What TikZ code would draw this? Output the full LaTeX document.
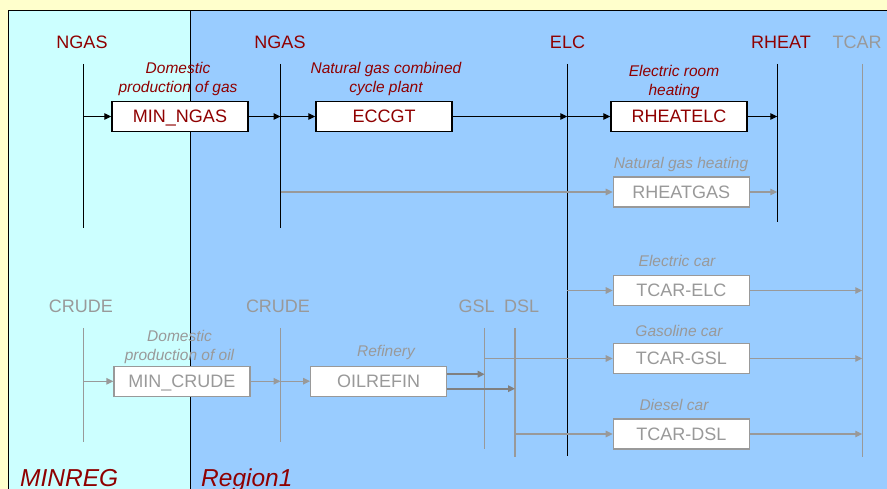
\documentclass[tikz,border=0pt]{standalone}
\usepackage{fontspec}
\setmainfont{Liberation Sans}
\usetikzlibrary{arrows.meta}
\definecolor{dred}{RGB}{143,0,0}
\definecolor{lgray}{RGB}{153,153,153}
\definecolor{mgray}{RGB}{128,128,128}
\definecolor{bgyellow}{RGB}{255,255,204}
\definecolor{regcyan}{RGB}{204,255,255}
\definecolor{regblue}{RGB}{153,204,255}
\begin{document}
\begin{tikzpicture}[x=1pt,y=-1pt,
  buslbl/.style={font=\fontsize{18}{20}\selectfont, inner sep=0pt, text=dred},
  gbuslbl/.style={buslbl, text=lgray},
  procbox/.style={draw=black, line width=1.4pt, fill=white, minimum width=136pt, minimum height=30pt, inner sep=0pt, text height=12.9pt, text depth=0pt, font=\fontsize{18}{20}\selectfont, text=dred},
  gprocbox/.style={procbox, draw=lgray, line width=1.2pt, text=lgray},
  desc/.style={font=\fontsize{15.5}{19}\selectfont\itshape, align=center, inner sep=0pt, text=dred},
  gdesc/.style={desc, text=lgray},
  bus/.style={draw=black, line width=1pt},
  gbus/.style={draw=lgray, line width=1.3pt},
  barrow/.style={draw=black, line width=1pt, -{Triangle[length=7pt,width=6.5pt]}},
  garrow/.style={draw=lgray, line width=1.2pt, -{Triangle[length=7pt,width=6.5pt]}},
  oarrow/.style={draw=mgray, line width=1.8pt, -{Triangle[length=7pt,width=6.5pt]}},
  reglbl/.style={font=\fontsize{24.5}{26}\selectfont\itshape, inner sep=0pt, text=dred, anchor=base west}
]
\useasboundingbox (0,0) rectangle (887,489);
% backgrounds
\fill[bgyellow] (0,0) rectangle (887,489);
\fill[regcyan] (8,11) rectangle (190,489);
\fill[regblue] (190,11) rectangle (887,489);
\draw[black, line width=1pt] (8,489) -- (8,11) -- (887,11);
\draw[black, line width=1pt] (190,11) -- (190,489);

% bus coordinates
\coordinate (ngasAT) at (83.5,64);   \coordinate (ngasAB) at (83.5,228);
\coordinate (ngasBT) at (280.5,64);  \coordinate (ngasBB) at (280.5,228);
\coordinate (elcT) at (567.3,64);    \coordinate (elcB) at (567.3,456);
\coordinate (rheatT) at (777.3,64);  \coordinate (rheatB) at (777.3,222);
\coordinate (tcarT) at (862.3,64);   \coordinate (tcarB) at (862.3,456.5);
\coordinate (crudeAT) at (83.5,328); \coordinate (crudeAB) at (83.5,441.7);
\coordinate (crudeBT) at (280.5,328);\coordinate (crudeBB) at (280.5,441.7);
\coordinate (gslT) at (484.7,328);   \coordinate (gslB) at (484.7,449);
\coordinate (dslT) at (515,328);     \coordinate (dslB) at (515,456.7);

% buses
\draw[bus] (ngasAT) -- (ngasAB);
\draw[bus] (ngasBT) -- (ngasBB);
\draw[bus] (elcT) -- (elcB);
\draw[bus] (rheatT) -- (rheatB);
\draw[gbus] (tcarT) -- (tcarB);
\draw[gbus] (crudeAT) -- (crudeAB);
\draw[gbus] (crudeBT) -- (crudeBB);
\draw[gbus] (gslT) -- (gslB);
\draw[gbus] (dslT) -- (dslB);

% bus labels
\node[buslbl] (lngasA) at (82,42.5) {NGAS};
\node[buslbl] (lngasB) at (280,42.5) {NGAS};
\node[buslbl] (lelc) at (567.5,42.5) {ELC};
\node[buslbl] (lrheat) at (781,42.5) {RHEAT};
\node[gbuslbl] (ltcar) at (857,42.5) {TCAR};
\node[gbuslbl] (lcrudeA) at (81,306.5) {CRUDE};
\node[gbuslbl] (lcrudeB) at (278,306.5) {CRUDE};
\node[gbuslbl] (lgsl) at (476.7,306.5) {GSL};
\node[gbuslbl] (ldsl) at (521.7,306.5) {DSL};

% descriptions
\node[desc] (dminngas) at (178,78.5) {Domestic\\production of gas};
\node[desc] (deccgt) at (386,79) {Natural gas combined\\cycle plant};
\node[desc] (drhelc) at (674,81.5) {Electric room\\heating};
\node[gdesc] (drhgas) at (681,164) {Natural gas heating};
\node[gdesc] (dtcelc) at (677,261.2) {Electric car};
\node[gdesc] (dtcgsl) at (679,330.5) {Gasoline car};
\node[gdesc] (dtcdsl) at (674,404.5) {Diesel car};
\node[gdesc] (dmincrude) at (179.5,346.5) {Domestic\\production of oil};
\node[gdesc] (doil) at (386,352.8) {Refinery};

% process boxes
\node[procbox] (minngas) at (180,116.5) {MIN\_NGAS};
\node[procbox] (eccgt) at (384,116.5) {ECCGT};
\node[procbox] (rhelc) at (679,116.5) {RHEATELC};
\node[gprocbox] (rhgas) at (681.3,192) {RHEATGAS};
\node[gprocbox] (tcelc) at (681.3,290.5) {TCAR-ELC};
\node[gprocbox] (tcgsl) at (681.3,358.5) {TCAR-GSL};
\node[gprocbox] (tcdsl) at (681.3,434) {TCAR-DSL};
\node[gprocbox] (mincrude) at (182,381.3) {MIN\_CRUDE};
\node[gprocbox] (oil) at (378.7,381.2) {OILREFIN};

% active flows
\draw[barrow] (ngasAT |- minngas.west) -- (minngas.west);
\draw[barrow] (minngas.east) -- (ngasBT |- minngas.east);
\draw[barrow] (ngasBT |- eccgt.west) -- (eccgt.west);
\draw[barrow] (eccgt.east) -- (elcT |- eccgt.east);
\draw[barrow] (elcT |- rhelc.west) -- (rhelc.west);
\draw[barrow] (rhelc.east) -- (rheatT |- rhelc.east);

% inactive flows
\draw[garrow] (ngasBT |- rhgas.west) -- (rhgas.west);
\draw[garrow] (rhgas.east) -- (rheatT |- rhgas.east);
\draw[garrow] (elcT |- tcelc.west) -- (tcelc.west);
\draw[garrow] (tcelc.east) -- (tcarT |- tcelc.east);
\draw[garrow] (gslT |- tcgsl.west) -- (tcgsl.west);
\draw[garrow] (tcgsl.east) -- (tcarT |- tcgsl.east);
\draw[garrow] (dslT |- tcdsl.west) -- (tcdsl.west);
\draw[garrow] (tcdsl.east) -- (tcarT |- tcdsl.east);
\draw[garrow] (crudeAT |- mincrude.west) -- (mincrude.west);
\draw[garrow] (mincrude.east) -- (crudeBT |- mincrude.east);
\draw[garrow] (crudeBT |- oil.west) -- (oil.west);
\coordinate (oilG) at ([yshift=7pt]oil.east);
\coordinate (oilD) at ([yshift=-7.5pt]oil.east);
\draw[oarrow] (oilG) -- (oilG -| gslT);
\draw[oarrow] (oilD) -- (oilD -| dslT);

% region labels
\node[reglbl] (rminreg) at (20,486) {MINREG};
\node[reglbl] (rregion1) at (201,486) {Region1};
\end{tikzpicture}
\end{document}
